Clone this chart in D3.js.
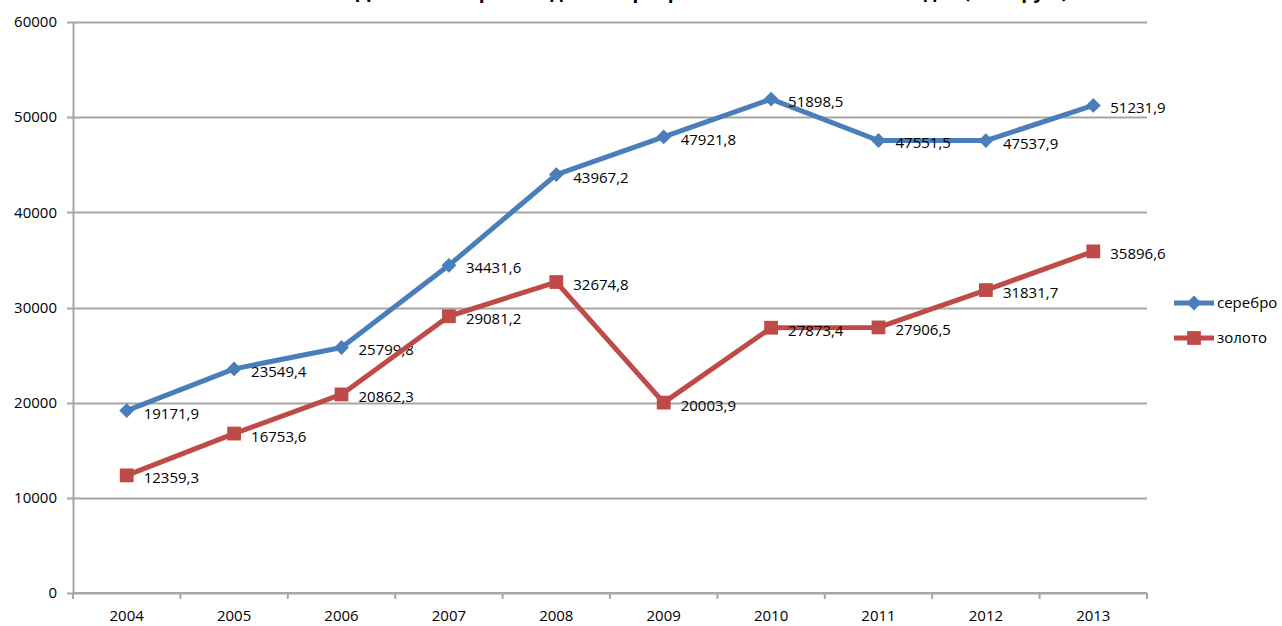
<!DOCTYPE html>
<html>
<head>
<meta charset="utf-8">
<script src="https://cdn.jsdelivr.net/npm/d3@7"></script>
<style>
  body { margin: 0; background: #fff; }
  svg text { font-family: "Open Sans", "Noto Sans", sans-serif; fill: #000; }
</style>
</head>
<body>
<script>
var width = 1282,
    height = 626;

// data
var years = ['2004', '2005', '2006', '2007', '2008', '2009', '2010', '2011', '2012', '2013'];
var silver = [19171.9, 23549.4, 25799.8, 34431.6, 43967.2, 47921.8, 51898.5, 47551.5, 47537.9, 51231.9];
var gold = [12359.3, 16753.6, 20862.3, 29081.2, 32674.8, 20003.9, 27873.4, 27906.5, 31831.7, 35896.6];
var yTicks = [0, 10000, 20000, 30000, 40000, 50000, 60000];
var seriesNames = ['серебро', 'золото'];
var title = 'Динамика производства серебра и золота в 2004-2013 годах (млн. руб.)';

var margin = {left: 73, right: 135, top: 22, bottom: 33};

var svg = d3.select('body').append('svg')
    .attr('width', width)
    .attr('height', height);

var x = d3.scaleBand()
    .domain(years)
    .range([margin.left, width - margin.right]);

var y = d3.scaleLinear()
    .domain([0, 60000])
    .range([height - margin.bottom, margin.top]);

/* title, cut off by the top edge as in the original */
svg.append('text')
    .attr('x', 712)
    .attr('y', -2)
    .attr('text-anchor', 'middle')
    .style('font-size', '19px')
    .style('font-weight', 'bold')
    .text(title);

/* gridlines */
svg.append('g')
    .selectAll('line')
    .data(yTicks)
    .enter().append('line')
    .attr('x1', margin.left - 6)
    .attr('x2', width - margin.right)
    .attr('y1', function(d) { return Math.round(y(d)) + 0.5; })
    .attr('y2', function(d) { return Math.round(y(d)) + 0.5; })
    .style('stroke', '#a6a6a6')
    .style('stroke-width', 2);

/* y axis */
var yAxis = svg.append('g')
    .attr('transform', 'translate(' + margin.left + ',0)')
    .call(d3.axisLeft(y).tickValues(yTicks).tickSize(0).tickPadding(16).tickFormat(d3.format('d')));
yAxis.select('.domain').style('stroke', '#a6a6a6').style('stroke-width', 2);
yAxis.selectAll('text').style('font-size', '15px').style('font-family', '"Open Sans", sans-serif');

/* x axis */
var xAxis = svg.append('g')
    .attr('transform', 'translate(0,' + y(0) + ')');
xAxis.append('line')
    .attr('x1', margin.left)
    .attr('x2', width - margin.right)
    .style('stroke', '#a6a6a6')
    .style('stroke-width', 2);
xAxis.selectAll('.tk')
    .data(years.concat(['end']))
    .enter().append('line')
    .attr('class', 'tk')
    .attr('x1', function(d, i) { return margin.left + i * x.step(); })
    .attr('x2', function(d, i) { return margin.left + i * x.step(); })
    .attr('y1', 0)
    .attr('y2', 6)
    .style('stroke', '#a6a6a6')
    .style('stroke-width', 2);
xAxis.selectAll('.lbl')
    .data(years)
    .enter().append('text')
    .attr('class', 'lbl')
    .attr('x', function(d) { return x(d) + x.bandwidth() / 2; })
    .attr('y', 28)
    .attr('text-anchor', 'middle')
    .style('font-size', '15px')
    .text(function(d) { return d; });

var fmt = function(v) { return d3.format('.1f')(v).replace('.', ','); };
var cx = function(d, i) { return x(years[i]) + x.bandwidth() / 2; };

var line = d3.line()
    .x(cx)
    .y(function(d) { return y(d); });

var series = [
  {name: seriesNames[0], values: silver, color: '#4a7ebb', size: 110, rot: 45},
  {name: seriesNames[1], values: gold, color: '#be4b48', size: 190, rot: 0}
];

var marker = function(s) { return d3.symbol().type(d3.symbolSquare).size(s.size)(); };

series.forEach(function(s) {
  svg.append('path')
      .datum(s.values)
      .attr('d', line)
      .style('fill', 'none')
      .style('stroke', s.color)
      .style('stroke-width', 5)
      .style('stroke-linejoin', 'round');

  svg.selectAll(null)
      .data(s.values)
      .enter().append('path')
      .attr('d', marker(s))
      .attr('transform', function(d, i) { return 'translate(' + cx(d, i) + ',' + y(d) + ') rotate(' + s.rot + ')'; })
      .style('fill', s.color);

  svg.selectAll(null)
      .data(s.values)
      .enter().append('text')
      .attr('x', function(d, i) { return cx(d, i) + 17; })
      .attr('y', function(d) { return y(d) + 8; })
      .style('font-size', '15px')
      .text(fmt);
});

/* legend */
var legend = svg.append('g')
    .selectAll('g')
    .data(series)
    .enter().append('g')
    .attr('transform', function(d, i) { return 'translate(1174,' + (303 + i * 35) + ')'; });
legend.append('line')
    .attr('x1', 0)
    .attr('x2', 40)
    .style('stroke', function(d) { return d.color; })
    .style('stroke-width', 5);
legend.append('path')
    .attr('d', marker)
    .attr('transform', function(d) { return 'translate(20,0) rotate(' + d.rot + ')'; })
    .style('fill', function(d) { return d.color; });
legend.append('text')
    .attr('x', 43)
    .attr('y', 5)
    .style('font-size', '15px')
    .text(function(d) { return d.name; });
</script>
</body>
</html>
